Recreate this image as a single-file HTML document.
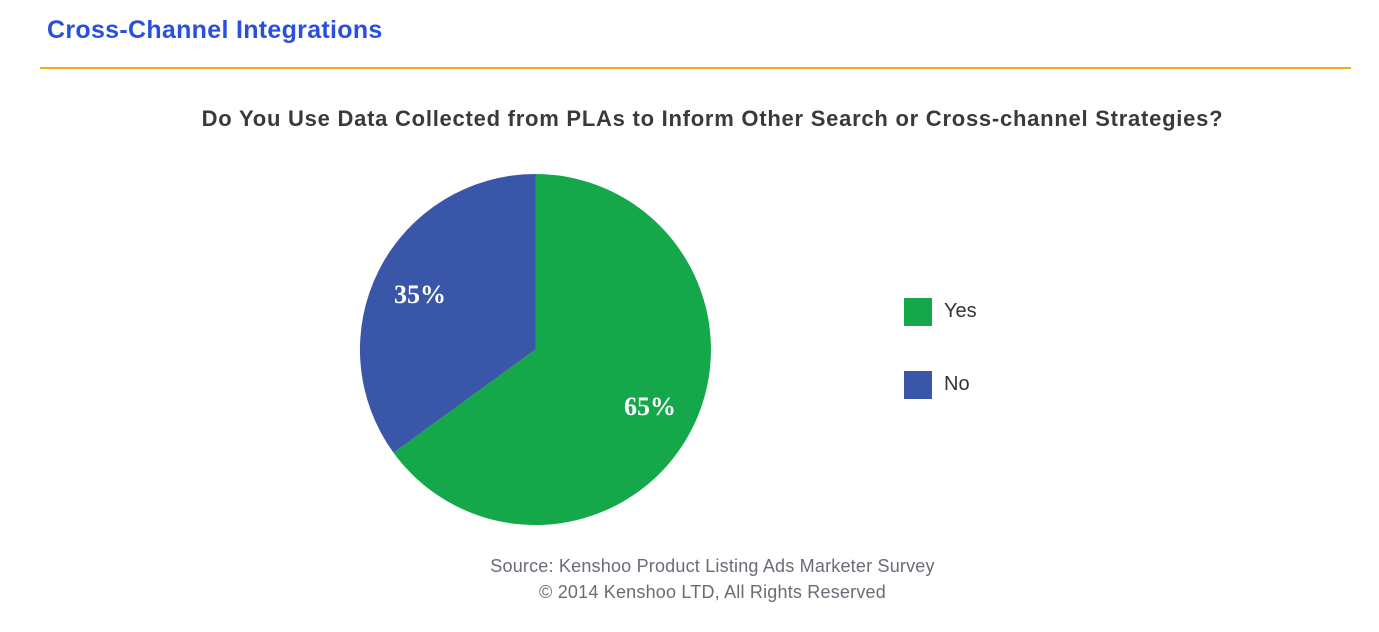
<!DOCTYPE html>
<html><head><meta charset="utf-8"><style>
body{margin:0;width:1379px;height:632px;background:#fff;position:relative;overflow:hidden;font-family:"Liberation Sans",sans-serif}
.t{position:absolute;left:47px;top:16px;font-size:25px;color:#2a4fe0;font-weight:bold;letter-spacing:0.3px}
.hr{position:absolute;left:40px;top:67px;width:1311px;height:2px;background:#f2ab1a}
.q{position:absolute;left:0;width:1425px;text-align:center;top:106px;font-size:22px;font-weight:bold;color:#3a3a3a;letter-spacing:0.75px}
.src{position:absolute;left:0;width:1425px;text-align:center;font-size:18px;color:#6b6b78;letter-spacing:0.2px}
.lg{position:absolute;left:904px;width:28px;height:28px}
.ll{position:absolute;left:944px;font-size:20px;color:#333}
</style></head><body>
<div class="t">Cross-Channel Integrations</div>
<div class="hr"></div>
<div class="q">Do You Use Data Collected from PLAs to Inform Other Search or Cross-channel Strategies?</div>
<svg style="position:absolute;left:0;top:0" width="1379" height="632">
<path d="M535.5,349.5 L535.5,174 A175.5,175.5 0 1 1 393.5,452.7 Z" fill="#14a84a"/>
<path d="M535.5,349.5 L393.5,452.7 A175.5,175.5 0 0 1 535.5,174 Z" fill="#3a56a8"/>
<text x="420" y="303" font-family="Liberation Serif,serif" font-weight="bold" font-size="26" fill="#fff" text-anchor="middle">35%</text>
<text x="650" y="415" font-family="Liberation Serif,serif" font-weight="bold" font-size="26" fill="#fff" text-anchor="middle">65%</text>
</svg>
<div class="lg" style="top:298px;background:#14a84a"></div><div class="ll" style="top:300px">Yes</div>
<div class="lg" style="top:371px;background:#3a56a8"></div><div class="ll" style="top:373px">No</div>
<div class="src" style="top:556px">Source: Kenshoo Product Listing Ads Marketer Survey</div>
<div class="src" style="top:582px">© 2014 Kenshoo LTD, All Rights Reserved</div>
</body></html>
